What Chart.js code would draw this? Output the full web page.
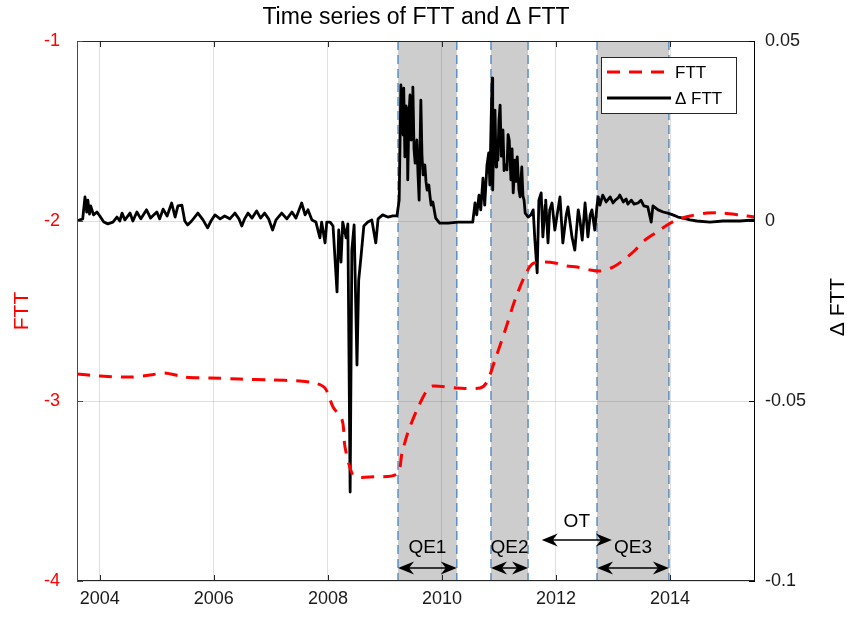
<!DOCTYPE html>
<html>
<head>
<meta charset="utf-8">
<title>Time series of FTT and Δ FTT</title>
<script src="https://cdn.jsdelivr.net/npm/chart.js@4.4.1/dist/chart.umd.min.js"></script>
<style>
  html, body { margin: 0; padding: 0; background: #fff; }
  #wrap { width: 847px; height: 618px; }
</style>
</head>
<body>
<div id="wrap"><canvas id="chart" width="847" height="618"></canvas></div>
<script>
// FTT level (left axis)
var fttYears = [2003.60, 2004.00, 2004.53, 2004.88, 2005.14, 2005.49, 2005.95, 2006.46, 2006.98, 2007.51,
  2007.77, 2007.95, 2008.09, 2008.25, 2008.30, 2008.42, 2008.51, 2008.74, 2009.21, 2009.30,
  2009.40, 2009.56, 2009.74, 2009.84, 2010.26, 2010.67, 2010.79, 2010.93, 2011.11, 2011.28,
  2011.46, 2011.58, 2011.72, 2011.98, 2012.19, 2012.37, 2012.60, 2012.77, 2013.00, 2013.21,
  2013.39, 2013.56, 2013.77, 2013.95, 2014.12, 2014.35, 2014.65, 2014.93, 2015.23, 2015.49];
var fttValues = [-2.850, -2.861, -2.867, -2.856, -2.844, -2.867, -2.872, -2.878, -2.883, -2.889,
  -2.900, -2.928, -3.033, -3.106, -3.256, -3.400, -3.422, -3.422, -3.406, -3.289,
  -3.178, -3.050, -2.939, -2.917, -2.928, -2.928, -2.894, -2.772, -2.606, -2.439,
  -2.300, -2.239, -2.228, -2.233, -2.250, -2.256, -2.272, -2.278, -2.256, -2.211,
  -2.161, -2.106, -2.061, -2.022, -1.994, -1.972, -1.956, -1.956, -1.967, -1.978];

// change in FTT (right axis)
var dYears = [2003.60, 2003.70, 2003.74, 2003.77, 2003.79, 2003.82, 2003.84, 2003.89, 2003.95, 2004.00,
  2004.07, 2004.14, 2004.23, 2004.30, 2004.35, 2004.39, 2004.44, 2004.53, 2004.58, 2004.65,
  2004.72, 2004.82, 2004.89, 2005.00, 2005.05, 2005.11, 2005.18, 2005.26, 2005.32, 2005.37,
  2005.44, 2005.49, 2005.54, 2005.61, 2005.72, 2005.81, 2005.89, 2005.95, 2006.02, 2006.11,
  2006.19, 2006.28, 2006.37, 2006.44, 2006.49, 2006.54, 2006.60, 2006.67, 2006.75, 2006.82,
  2006.89, 2006.96, 2007.03, 2007.09, 2007.19, 2007.28, 2007.37, 2007.44, 2007.54, 2007.60,
  2007.65, 2007.72, 2007.79, 2007.86, 2007.89, 2007.95, 2007.98,
  2008.04, 2008.09, 2008.16, 2008.19, 2008.23, 2008.26, 2008.32, 2008.35, 2008.39, 2008.42,
  2008.46, 2008.51, 2008.54, 2008.58, 2008.63, 2008.70, 2008.77, 2008.84, 2008.88, 2008.96,
  2009.05, 2009.14, 2009.21, 2009.25, 2009.28, 2009.30, 2009.32, 2009.33, 2009.35, 2009.37,
  2009.39, 2009.40, 2009.42, 2009.44, 2009.46, 2009.48, 2009.49, 2009.51, 2009.53, 2009.56,
  2009.58, 2009.60, 2009.63, 2009.65, 2009.67, 2009.70, 2009.72, 2009.74, 2009.77, 2009.79,
  2009.81, 2009.84, 2009.89, 2009.96, 2010.11, 2010.28, 2010.46, 2010.54,
  2010.58, 2010.61, 2010.65, 2010.68, 2010.72, 2010.75, 2010.79, 2010.82, 2010.84, 2010.86,
  2010.88, 2010.89, 2010.91, 2010.93, 2010.95, 2010.96, 2010.98, 2011.00, 2011.02, 2011.04,
  2011.05, 2011.07, 2011.09, 2011.11, 2011.14, 2011.16, 2011.18, 2011.21, 2011.23, 2011.25,
  2011.28, 2011.30, 2011.32, 2011.35, 2011.37, 2011.40, 2011.42, 2011.44, 2011.46, 2011.51,
  2011.56, 2011.60, 2011.63, 2011.67, 2011.70, 2011.74, 2011.77, 2011.81, 2011.82, 2011.86,
  2011.89, 2011.93, 2011.98, 2012.02, 2012.07, 2012.12, 2012.18, 2012.21, 2012.28, 2012.33,
  2012.39, 2012.42, 2012.46, 2012.51, 2012.56, 2012.60, 2012.63, 2012.68, 2012.72, 2012.74,
  2012.77, 2012.82, 2012.88, 2012.95, 2013.00, 2013.04, 2013.09, 2013.12, 2013.18, 2013.23,
  2013.26, 2013.32, 2013.37, 2013.44, 2013.49, 2013.54, 2013.61, 2013.67, 2013.70, 2013.79,
  2013.88, 2013.96, 2014.05, 2014.14, 2014.23, 2014.35, 2014.47, 2014.70, 2014.93, 2015.23,
  2015.49];
var dValues = [0.0000, 0.0006, 0.0067, 0.0025, 0.0058, 0.0019, 0.0042, 0.0017, 0.0025, 0.0014,
  -0.0003, -0.0008, -0.0003, 0.0011, 0.0000, 0.0022, 0.0003, 0.0022, 0.0000, 0.0025,
  0.0006, 0.0031, 0.0008, 0.0025, 0.0006, 0.0033, 0.0014, 0.0050, 0.0011, 0.0042,
  0.0044, 0.0000, -0.0011, 0.0000, 0.0022, 0.0003, -0.0019, 0.0000, 0.0017, 0.0006,
  0.0014, 0.0006, 0.0022, 0.0006, -0.0014, 0.0006, 0.0022, 0.0008, 0.0028, 0.0008,
  0.0022, 0.0006, -0.0025, 0.0003, 0.0022, 0.0006, 0.0025, 0.0008, 0.0050, 0.0017,
  0.0031, 0.0003, -0.0003, -0.0047, -0.0003, -0.0061, -0.0003,
  -0.0003, -0.0014, -0.0197, -0.0025, -0.0114, -0.0003, -0.0047, -0.0008, -0.0753, -0.0081,
  -0.0011, -0.0400, -0.0164, -0.0100, -0.0014, -0.0003, 0.0003, -0.0061, 0.0006, 0.0017,
  0.0011, 0.0014, 0.0014, 0.0058, 0.0378, 0.0260, 0.0239, 0.0369, 0.0178, 0.0320,
  0.0308, 0.0114, 0.0290, 0.0350, 0.0225, 0.0340, 0.0372, 0.0200, 0.0161, 0.0225,
  0.0130, 0.0058, 0.0336, 0.0180, 0.0128, 0.0156, 0.0110, 0.0086, 0.0100, 0.0070,
  0.0044, 0.0053, 0.0008, -0.0006, -0.0006, -0.0003, -0.0003, -0.0003,
  0.0050, 0.0017, 0.0072, 0.0031, 0.0119, 0.0044, 0.0156, 0.0189, 0.0100, 0.0260,
  0.0397, 0.0086, 0.0250, 0.0308, 0.0150, 0.0197, 0.0169, 0.0280, 0.0322, 0.0180,
  0.0197, 0.0253, 0.0140, 0.0156, 0.0142, 0.0240, 0.0225, 0.0114, 0.0200, 0.0078,
  0.0169, 0.0110, 0.0178, 0.0086, 0.0067, 0.0150, 0.0070, 0.0058, 0.0022, 0.0011,
  0.0017, 0.0031, -0.0053, -0.0144, 0.0058, 0.0078, -0.0044, 0.0044, 0.0058, -0.0061,
  0.0031, 0.0050, -0.0025, 0.0017, 0.0067, -0.0061, 0.0017, 0.0039, -0.0044, -0.0081,
  0.0031, 0.0003, -0.0053, 0.0050, -0.0044, 0.0017, 0.0031, -0.0025, 0.0044, 0.0067,
  0.0044, 0.0072, 0.0053, 0.0067, 0.0050, 0.0058, 0.0064, 0.0072, 0.0053, 0.0061,
  0.0047, 0.0058, 0.0047, 0.0050, 0.0058, 0.0042, 0.0039, -0.0003, 0.0042, 0.0031,
  0.0025, 0.0022, 0.0017, 0.0011, 0.0008, 0.0003, 0.0000, -0.0003, 0.0000, 0.0000,
  0.0003];

// policy periods
var qeNames = ['QE1', 'QE2', 'QE3'];
var qeStart = [2009.23, 2010.86, 2012.72];
var qeEnd = [2010.26, 2011.51, 2013.98];
var otName = 'OT';
var otSpan = [2011.75, 2012.98];

// axes
var xTicks = [2004, 2006, 2008, 2010, 2012, 2014];
var xRange = [2003.6, 2015.49];
var yLeftTicks = [-4, -3, -2, -1];
var yRightTicks = [-0.1, -0.05, 0, 0.05];
var yRightLabels = ['-0.1', '-0.05', '0', '0.05'];

var FONT = '"Liberation Sans", Arial, Helvetica, sans-serif';
var AXIS_GREY = '#262626';

function toPoints(xs, ys) {
  return xs.map(function (x, i) { return { x: x, y: ys[i] }; });
}

function txt(ctx, s, x, y, size, color, align, base, rot) {
  ctx.save();
  ctx.translate(x, y);
  if (rot) ctx.rotate(rot);
  ctx.font = size + 'px ' + FONT;
  ctx.fillStyle = color;
  ctx.textAlign = align || 'center';
  ctx.textBaseline = base || 'middle';
  ctx.fillText(s, 0, 0);
  ctx.restore();
}

// filled "vback" arrow head, tip at (x, y), dir = +1 points right, -1 left
function head(ctx, x, y, dir) {
  var L = 16, W = 6.5, notch = 5;
  ctx.beginPath();
  ctx.moveTo(x, y);
  ctx.lineTo(x - dir * L, y - W);
  ctx.lineTo(x - dir * (L - notch), y);
  ctx.lineTo(x - dir * L, y + W);
  ctx.closePath();
  ctx.fill();
}

function doubleArrow(ctx, x1, x2, y) {
  ctx.save();
  ctx.strokeStyle = '#000';
  ctx.fillStyle = '#000';
  ctx.lineWidth = 1.5;
  ctx.beginPath();
  ctx.moveTo(x1 + 4, y);
  ctx.lineTo(x2 - 4, y);
  ctx.stroke();
  head(ctx, x1, y, -1);
  head(ctx, x2, y, 1);
  ctx.restore();
}

// grey QE bands with dashed edges, under the grid
var bandsPlugin = {
  id: 'bands',
  beforeDraw: function (chart) {
    var ctx = chart.ctx, a = chart.chartArea, xs = chart.scales.x;
    ctx.save();
    for (var i = 0; i < qeStart.length; i++) {
      var x1 = xs.getPixelForValue(qeStart[i]);
      var x2 = xs.getPixelForValue(qeEnd[i]);
      ctx.fillStyle = '#cdcdcd';
      ctx.fillRect(x1, a.top, x2 - x1, a.bottom - a.top);
      ctx.strokeStyle = '#5b8fc4';
      ctx.lineWidth = 1.5;
      ctx.setLineDash([9, 5]);
      [x1, x2].forEach(function (x) {
        ctx.beginPath();
        ctx.moveTo(x, a.top);
        ctx.lineTo(x, a.bottom);
        ctx.stroke();
      });
    }
    ctx.restore();
  }
};

// frame, ticks, labels, legend and period annotations
var decorPlugin = {
  id: 'decor',
  afterDatasetsDraw: function (chart) {
    var ctx = chart.ctx, a = chart.chartArea;
    var xs = chart.scales.x, yl = chart.scales.y, yr = chart.scales.y1;
    var tl = 6;

    ctx.save();
    ctx.lineWidth = 1;
    // top and bottom borders with inward ticks
    ctx.strokeStyle = AXIS_GREY;
    ctx.beginPath();
    ctx.moveTo(a.left, a.top + 0.5); ctx.lineTo(a.right, a.top + 0.5);
    ctx.moveTo(a.left, a.bottom - 0.5); ctx.lineTo(a.right, a.bottom - 0.5);
    xTicks.forEach(function (v) {
      var x = Math.round(xs.getPixelForValue(v)) + 0.5;
      ctx.moveTo(x, a.bottom); ctx.lineTo(x, a.bottom - tl);
      ctx.moveTo(x, a.top); ctx.lineTo(x, a.top + tl);
    });
    ctx.stroke();
    // right axis
    ctx.strokeStyle = '#000';
    ctx.beginPath();
    ctx.moveTo(a.right - 0.5, a.top); ctx.lineTo(a.right - 0.5, a.bottom);
    yRightTicks.forEach(function (v) {
      var y = Math.round(yr.getPixelForValue(v)) + 0.5;
      ctx.moveTo(a.right, y); ctx.lineTo(a.right - tl, y);
    });
    ctx.stroke();
    // left axis in red
    ctx.strokeStyle = '#ff0000';
    ctx.beginPath();
    ctx.moveTo(a.left + 0.5, a.top); ctx.lineTo(a.left + 0.5, a.bottom);
    yLeftTicks.forEach(function (v) {
      var y = Math.round(yl.getPixelForValue(v)) + 0.5;
      ctx.moveTo(a.left, y); ctx.lineTo(a.left + tl, y);
    });
    ctx.stroke();
    ctx.restore();

    // tick labels
    xTicks.forEach(function (v) {
      txt(ctx, String(v), xs.getPixelForValue(v), a.bottom + 18, 18, '#1a1a1a');
    });
    yLeftTicks.forEach(function (v) {
      txt(ctx, String(v), a.left - 17, yl.getPixelForValue(v), 18, '#ff0000', 'right');
    });
    yRightTicks.forEach(function (v, i) {
      txt(ctx, yRightLabels[i], a.right + 10, yr.getPixelForValue(v), 18, '#1a1a1a', 'left');
    });

    // titles
    txt(ctx, 'Time series of FTT and \u0394 FTT', (a.left + a.right) / 2, 18, 23, '#000');
    txt(ctx, 'FTT', 22, (a.top + a.bottom) / 2, 21, '#ff0000', 'center', 'middle', -Math.PI / 2);
    txt(ctx, '\u0394 FTT', 838, (a.top + a.bottom) / 2 - 4, 21, '#000', 'center', 'middle', -Math.PI / 2);

    // legend box
    var lx = a.right - 154, ly = a.top + 16, lw = 135, lh = 56;
    ctx.save();
    ctx.fillStyle = '#fff';
    ctx.fillRect(lx, ly, lw, lh);
    ctx.strokeStyle = AXIS_GREY;
    ctx.lineWidth = 1;
    ctx.strokeRect(lx + 0.5, ly + 0.5, lw, lh);
    ctx.lineWidth = 3;
    ctx.strokeStyle = '#ff0000';
    ctx.setLineDash([13, 9]);
    ctx.beginPath();
    ctx.moveTo(lx + 6, ly + 15); ctx.lineTo(lx + 70, ly + 15);
    ctx.stroke();
    ctx.setLineDash([]);
    ctx.strokeStyle = '#000';
    ctx.beginPath();
    ctx.moveTo(lx + 6, ly + 41); ctx.lineTo(lx + 70, ly + 41);
    ctx.stroke();
    ctx.restore();
    txt(ctx, 'FTT', lx + 74, ly + 16, 17, '#000', 'left');
    txt(ctx, '\u0394 FTT', lx + 74, ly + 42, 17, '#000', 'left');

    // QE / OT annotations
    for (var i = 0; i < qeNames.length; i++) {
      var x1 = xs.getPixelForValue(qeStart[i]);
      var x2 = xs.getPixelForValue(qeEnd[i]);
      doubleArrow(ctx, x1, x2, a.bottom - 13);
      txt(ctx, qeNames[i], (x1 + x2) / 2, a.bottom - 33, 19, '#000');
    }
    var o1 = xs.getPixelForValue(otSpan[0]);
    var o2 = xs.getPixelForValue(otSpan[1]);
    doubleArrow(ctx, o1, o2, a.bottom - 41);
    txt(ctx, otName, (o1 + o2) / 2, a.bottom - 59, 19, '#000');
  }
};

var config = {
  type: 'line',
  data: {
    datasets: [{
      label: 'FTT',
      data: toPoints(fttYears, fttValues),
      yAxisID: 'y',
      borderColor: '#ff0000',
      borderWidth: 3,
      borderDash: [13, 9],
      pointRadius: 0,
      tension: 0.3
    }, {
      label: '\u0394 FTT',
      data: toPoints(dYears, dValues),
      yAxisID: 'y1',
      borderColor: '#000000',
      borderWidth: 2.8,
      borderJoinStyle: 'round',
      pointRadius: 0,
      tension: 0
    }]
  },
  options: {
    responsive: false,
    animation: false,
    events: [],
    layout: { padding: { top: 41, left: 0, right: 0, bottom: 0 } },
    plugins: { legend: { display: false }, tooltip: { enabled: false }, title: { display: false } },
    scales: {
      x: {
        type: 'linear',
        min: xRange[0],
        max: xRange[1],
        afterBuildTicks: function (s) { s.ticks = xTicks.map(function (v) { return { value: v }; }); },
        afterFit: function (s) { s.height = 37; },
        ticks: { display: false },
        border: { display: false },
        grid: { color: 'rgba(0,0,0,0.12)', drawTicks: false }
      },
      y: {
        type: 'linear',
        position: 'left',
        min: -4,
        max: -1,
        afterBuildTicks: function (s) { s.ticks = yLeftTicks.map(function (v) { return { value: v }; }); },
        afterFit: function (s) { s.width = 77; },
        ticks: { display: false },
        border: { display: false },
        grid: { color: 'rgba(255,0,0,0.18)', drawTicks: false }
      },
      y1: {
        type: 'linear',
        position: 'right',
        min: -0.1,
        max: 0.05,
        afterFit: function (s) { s.width = 92; },
        ticks: { display: false },
        border: { display: false },
        grid: { display: false }
      }
    }
  },
  plugins: [bandsPlugin, decorPlugin]
};

var chart = new Chart(document.getElementById('chart'), config);
</script>
</body>
</html>
